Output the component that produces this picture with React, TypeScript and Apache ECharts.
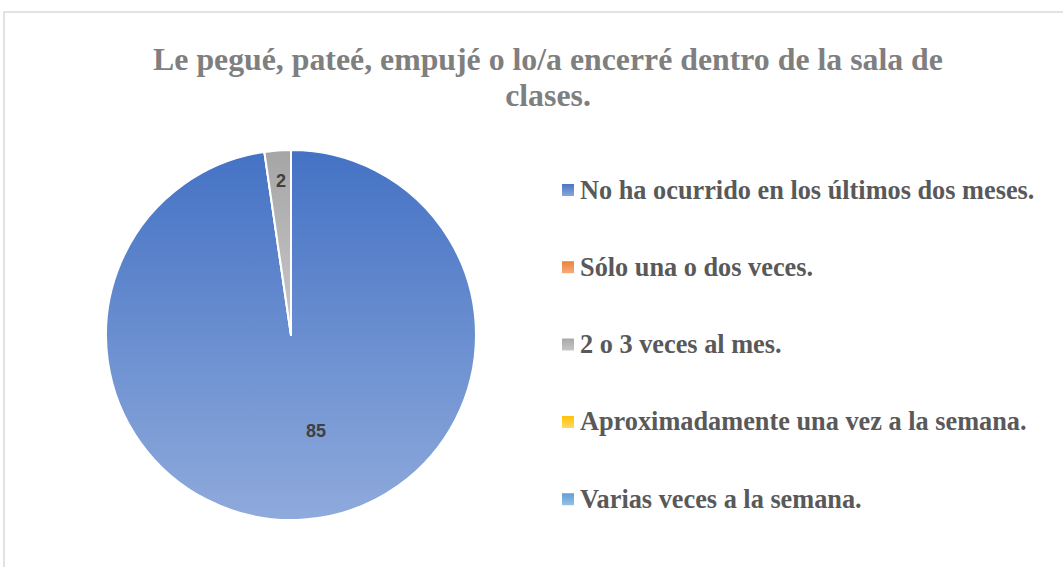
import React, { useEffect, useRef } from "react";
import * as echarts from "echarts";

const categories = [
  "No ha ocurrido en los últimos dos meses.",
  "Sólo una o dos veces.",
  "2 o 3 veces al mes.",
  "Aproximadamente una vez a la semana.",
  "Varias veces a la semana.",
];
const values = [85, 0, 2, 0, 0];
const colorsTop = ["#4472C4", "#ED7D31", "#A5A5A5", "#FFC000", "#5B9BD5"];
const colorsBottom = ["#8FAADC", "#F4B183", "#C9C9C9", "#FFD966", "#9DC3E6"];
const labelOffsets: Record<number, [number, number]> = { 0: [18, 1], 2: [-3, -59] };
const titleText = "Le pegué, pateé, empujé o lo/a encerré dentro de la sala de\nclases.";

export default function App() {
  const ref = useRef<HTMLDivElement>(null);
  useEffect(() => {
    if (!ref.current) return;
    const chart = echarts.init(ref.current, null, { renderer: "svg" });
    const data = categories.map((name, i) => ({
      name,
      value: values[i],
      itemStyle: {
        color: new echarts.graphic.LinearGradient(0, 0, 0, 1, [
          { offset: 0, color: colorsTop[i] },
          { offset: 1, color: colorsBottom[i] },
        ]),
      },
      label: labelOffsets[i] ? { offset: labelOffsets[i] } : undefined,
    }));
    chart.setOption({
      animation: false,
      backgroundColor: "#ffffff",
      title: {
        text: titleText,
        left: 543,
        textAlign: "center",
        top: 36,
        textStyle: {
          fontFamily: "Liberation Serif",
          fontWeight: "bold",
          fontSize: 31.8,
          color: "#7F7F7F",
          lineHeight: 36,
        },
      },
      graphic: [
        {
          type: "rect",
          shape: { x: 4, y: 12, width: 1100, height: 600 },
          style: { fill: "none", stroke: "#D9D9D9", lineWidth: 1.5 },
          silent: true,
        },
      ],
      legend: {
        orient: "vertical",
        left: 555,
        top: 172,
        itemWidth: 14,
        itemHeight: 14,
        itemGap: 51.3,
        icon: "rect",
        textStyle: {
          fontFamily: "Liberation Serif",
          fontWeight: "bold",
          fontSize: 26.3,
          color: "#595959",
        },
        data: categories,
      },
      series: [
        {
          type: "pie",
          center: [291, 335],
          radius: [0, 185],
          startAngle: 90,
          clockwise: true,
          avoidLabelOverlap: false,
          itemStyle: { borderColor: "#ffffff", borderWidth: 2 },
          label: {
            show: true,
            position: "inside",
            fontFamily: "Liberation Sans",
            fontWeight: "bold",
            fontSize: 18,
            color: "#404040",
            formatter: (p: any) => (p.value ? String(p.value) : ""),
          },
          labelLine: { show: false },
          emphasis: { disabled: true },
          data,
        },
      ],
    });
    return () => chart.dispose();
  }, []);
  return (
    <div
      ref={ref}
      style={{ position: "absolute", left: 0, top: 0, width: 1063, height: 567 }}
    />
  );
}
